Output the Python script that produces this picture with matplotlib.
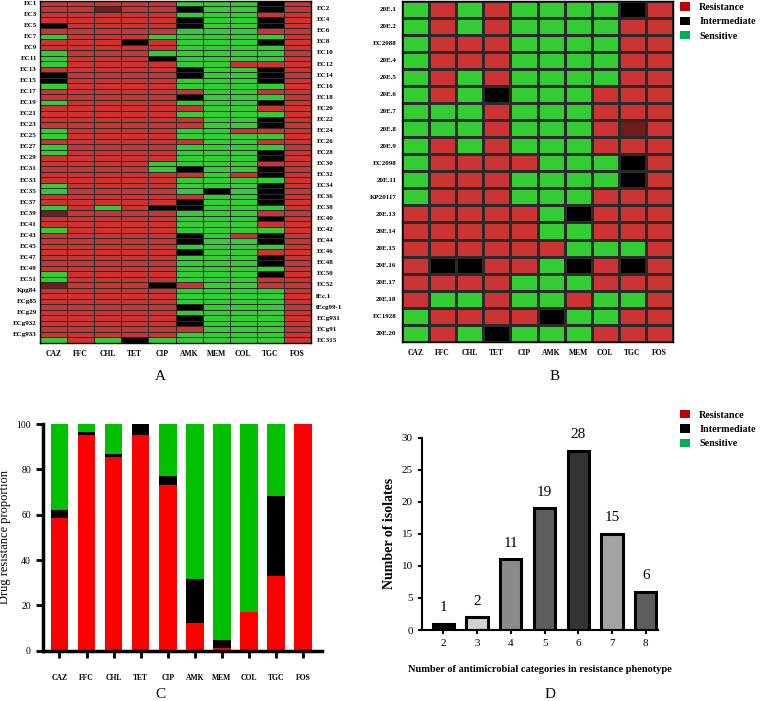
import matplotlib
matplotlib.use("Agg")
import matplotlib.pyplot as plt
import numpy as np
from matplotlib.colors import ListedColormap
from matplotlib.patches import Patch
import matplotlib.transforms as mtransforms

plt.rcParams["font.family"] = ["Liberation Serif", "DejaVu Serif"]

# 药物列
drugs = ["CAZ", "FFC", "CHL", "TET", "CIP", "AMK", "MEM", "COL", "TGC", "FOS"]

# A: R=resistance, I=intermediate, S=sensitive, D=resistance (dark cell)
isolates_a = ["EC1", "EC2", "EC3", "EC4", "EC5", "EC6", "EC7", "EC8", "EC9", "EC10",
              "EC11", "EC12", "EC13", "EC14", "EC15", "EC16", "EC17", "EC18", "EC19", "EC20",
              "EC21", "EC22", "EC23", "EC24", "EC25", "EC26", "EC27", "EC28", "EC29", "EC30",
              "EC31", "EC32", "EC33", "EC34", "EC35", "EC36", "EC37", "EC38", "EC39", "EC40",
              "EC41", "EC42", "EC43", "EC44", "EC45", "EC46", "EC47", "EC48", "EC49", "EC50",
              "EC51", "EC52", "Kpg84", "fEc.1", "ECg85", "fEcg99-1", "ECg29", "ECg931",
              "ECg932", "ECg91", "ECg933", "EC315"]
profile_a = [
    "RRRRRSSSIR", "RRDRRISSIR", "RRRRRSSSRR", "RRRRRISSIR", "IRRRRISSIR",
    "RRRRRSSSRR", "SRRRSSSSSR", "RRRIRSSSIR", "RRRRRSSSSR", "SRRRSSSSSR",
    "SRRRISSSSR", "SRRRRSSRRR", "RRRRRISSIR", "IRRRRISSIR", "IRRRRSSSIR",
    "SRRRRSSSSR", "RRRRRRSSRR", "RRRRRISSSR", "SRRRRSSSIR", "RRRRRRSSRR",
    "RRRRRSSSSR", "RRRRRRSSIR", "RRRRRRSSIR", "SRRRRSSRRR", "SRRRRSSSSR",
    "RRRRRRSSRR", "SRRRRSSSSR", "SRRRRSSSIR", "RRRRRSSSIR", "RRRRSSSSRR",
    "RRRRSISSIR", "RRRRRRSRIR", "RRRRRSSSSR", "SRRRRSSSIR", "SRRRRSISIR",
    "RRRRRRSSIR", "RRRRRISSIR", "SRSRIISSSR", "DRRRRSSSRR", "RRRRRSSSIR",
    "RRRRRSSSRR", "SRRRRSSSSR", "RRRRRISRIR", "RRRRRISSIR", "RRRRRSSSSR",
    "RRRRRISSRR", "RRRRRSSSIR", "RRRRRSSSIR", "RRRRRSSSSR", "SRRRRSSSIR",
    "SRRRRSSSRR", "DRRRIRSSRR", "RRRRRSSSSR", "RRRRRSSSSR", "RRRRRSSSSR",
    "RRRRRISSSR", "RRRRRSSSSR", "RRRRRISSSR", "RRRRRISSSR", "RRRRRRSSSR",
    "RRRRRSSSSR", "SRSISSSSSR",
]

# B
isolates_b = ["20E.1", "20E.2", "EC2088", "20E.4", "20E.5", "20E.6", "20E.7", "20E.8",
              "20E.9", "EC2098", "20E.11", "KP20117", "20E.13", "20E.14", "20E.15",
              "20E.16", "20E.17", "20E.18", "EC1928", "20E.20"]
profile_b = [
    "SRSRSSSSIR", "SRSRSSSSRR", "SRRRSSSSRR", "SRRRSSSSRR", "SRSRSSSSRR",
    "SRSISSSRRR", "SSSRSSSRRR", "SSSRSSSRDR", "SRSRSSSRRR", "SRRRRSSSIR",
    "SRRRSSSSIR", "SRRRSSSRRR", "RRRRRSIRRR", "RRRRRSSRRR", "RRRRRRSSSR",
    "RIIRRSIRIR", "RRRRSSSRRR", "RSSRSSRSSR", "SRRRRISSRR", "SRSISSSRRR",
]

# C: 耐药比例 (%)
pct_res = [58.5, 95.1, 85.4, 95.1, 73.2, 12.2, 1.2, 17.1, 32.9, 100.0]
pct_int = [3.7, 1.2, 1.2, 4.9, 3.7, 19.5, 3.7, 0.0, 35.4, 0.0]
pct_sen = [37.8, 3.7, 13.4, 0.0, 23.1, 68.3, 95.1, 82.9, 31.7, 0.0]

# D: 耐药类别数
n_categories = [2, 3, 4, 5, 6, 7, 8]
n_isolates = [1, 2, 11, 19, 28, 15, 6]
bar_grays = ["#0a0a0a", "#d2d2d2", "#8a8a8a", "#5e5e5e", "#333333", "#a3a3a3", "#5e5e5e"]

W, H = 760, 701
code = {"R": 0, "I": 1, "S": 2, "D": 3}
cmap = ListedColormap(["#cc3333", "#000000", "#33cc33", "#6e1c1c"])


def box(x0, y0, x1, y1):
    return [x0 / W, 1 - y1 / H, (x1 - x0) / W, (y1 - y0) / H]


def heatmap(ax, profiles, lw):
    grid = np.array([[code[c] for c in row] for row in profiles])
    ax.pcolormesh(grid, cmap=cmap, vmin=-0.5, vmax=3.5, edgecolors="#2a2a2a", linewidth=lw)
    ax.set_xlim(0, len(drugs))
    ax.set_ylim(len(profiles), 0)
    ax.set_yticks([])
    ax.set_xticks(np.arange(len(drugs)) + 0.5)
    ax.set_xticklabels(drugs, fontsize=5.5, fontweight="bold")
    ax.tick_params(axis="x", length=0, pad=5)
    for s in ax.spines.values():
        s.set_linewidth(1.0)


fig = plt.figure(figsize=(W / 100, H / 100), dpi=100)
fig.patch.set_facecolor("white")

# ---- A ----
axA = fig.add_axes(box(40, 0.5, 311, 343))
heatmap(axA, profile_a, 0.5)
trA = mtransforms.blended_transform_factory(axA.transAxes, axA.transData)
for i, name in enumerate(isolates_a):
    if i % 2 == 0:
        axA.text(-0.012, i + 0.5, name, transform=trA, ha="right", va="center",
                 fontsize=5, fontweight="bold")
    else:
        axA.text(1.02, i + 0.5, name, transform=trA, ha="left", va="center",
                 fontsize=5, fontweight="bold")
fig.text(160 / W, 1 - 376 / H, "A", ha="center", va="center", fontsize=11)

# ---- B ----
axB = fig.add_axes(box(402, 0.5, 673, 342))
heatmap(axB, profile_b, 0.8)
axB.set_yticks(np.arange(len(isolates_b)) + 0.5)
axB.set_yticklabels(isolates_b, fontsize=5, fontweight="bold")
axB.tick_params(axis="y", length=0, pad=4)
fig.text(555 / W, 1 - 376 / H, "B", ha="center", va="center", fontsize=11)

legend_handles = [Patch(facecolor="#c00000", label="Resistance"),
                  Patch(facecolor="#000000", label="Intermediate"),
                  Patch(facecolor="#00b050", label="Sensitive")]
for top in (2.5, 410):
    fig.legend(handles=legend_handles, loc="upper left",
               bbox_to_anchor=(680 / W, 1 - top / H), frameon=False,
               borderpad=0, borderaxespad=0,
               handlelength=1.0, handleheight=0.9, handletextpad=0.9, labelspacing=0.45,
               prop={"size": 7.3, "weight": "bold"})

# ---- C ----
axC = fig.add_axes(box(42.7, 424, 321.7, 650.7))
x = np.arange(len(drugs))
res = np.array(pct_res)
inter = np.array(pct_int)
sen = np.array(pct_sen)
axC.bar(x, res, width=0.65, color="#ff0000")
axC.bar(x, inter, width=0.65, bottom=res, color="#000000")
axC.bar(x, sen, width=0.65, bottom=res + inter, color="#00c000")
axC.set_xlim(-0.62, 9.69)
axC.set_ylim(0, 100)
axC.set_yticks(range(0, 101, 20))
axC.set_xticks(x)
axC.set_xticklabels(drugs, fontsize=5.5, fontweight="bold")
axC.tick_params(axis="x", length=5, width=2, pad=12)
axC.tick_params(axis="y", length=5, width=2, labelsize=7)
axC.spines["top"].set_visible(False)
axC.spines["right"].set_visible(False)
axC.spines["left"].set_linewidth(2.5)
axC.spines["bottom"].set_linewidth(2.5)
axC.set_ylabel("Drug resistance proportion", fontsize=9, labelpad=4)
fig.text(160 / W, 1 - 694 / H, "C", ha="center", va="center", fontsize=11)

# ---- D ----
axD = fig.add_axes(box(421.7, 437.7, 658, 630))
axD.bar(n_categories, n_isolates, width=0.63, color=bar_grays,
        edgecolor="black", linewidth=2.2)
for xi, yi in zip(n_categories, n_isolates):
    axD.text(xi, yi + 1.5, str(yi), ha="center", va="bottom", fontsize=11)
axD.set_xlim(1.36, 8.36)
axD.set_ylim(0, 30)
axD.set_yticks(range(0, 31, 5))
axD.set_xticks(n_categories)
axD.tick_params(axis="both", labelsize=8, width=1.5, length=3)
axD.spines["top"].set_visible(False)
axD.spines["right"].set_visible(False)
axD.spines["left"].set_linewidth(1.5)
axD.spines["bottom"].set_linewidth(1.5)
axD.set_ylabel("Number of isolates", fontsize=10, fontweight="bold", labelpad=4)
axD.set_xlabel("Number of antimicrobial categories in resistance phenotype",
               fontsize=7.5, fontweight="bold", labelpad=12)
fig.text(550 / W, 1 - 695 / H, "D", ha="center", va="center", fontsize=11)

fig.savefig("out.png", dpi=100, facecolor="white")
